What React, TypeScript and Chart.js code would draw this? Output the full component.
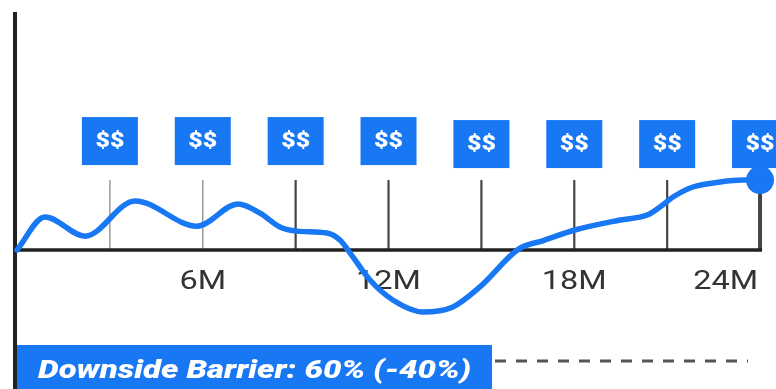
import React, { useEffect, useRef } from 'react';
import { Chart, registerables } from 'chart.js';

Chart.register(...registerables);

// ---- data ----
const months = [0, 0.9, 2.2, 3.81, 5.81, 7.14, 7.85, 8.49, 9.04, 10.01, 10.43, 10.76, 11.4, 12.14, 13.11, 14.08, 14.95, 16.2, 17.0, 18.02, 19.48, 20.35, 20.77, 21.19, 21.83, 22.71, 23.45, 24];
const performance = [0, 11.9, 5.0, 17.7, 8.6, 16.6, 13.3, 8.3, 6.8, 6.1, 3.6, -1.1, -10.8, -18.0, -22.3, -20.5, -13.3, 0.3, 3.4, 7.2, 10.8, 12.6, 15.5, 19.1, 22.7, 24.5, 25.2, 25.2];
const observationMonths = [3, 6, 9, 12, 15, 18, 21, 24];
const tickLabels = ['', '6M', '', '12M', '', '18M', '', '24M'];
const couponText = '$$';
const observationTop = 25.2;
const barrierLevel = -40;
const barrierLabel = 'Downside Barrier: 60% (-40%)';

const BLUE = '#1877f2';

// draws text widened horizontally by factor sx; align: 'left' | 'center' | 'right'
function wideText(ctx: CanvasRenderingContext2D, text: string, x: number, y: number, sx: number, align: string) {
  const w = ctx.measureText(text).width * sx;
  let left = x;
  if (align === 'center') left = x - w / 2;
  else if (align === 'right') left = x - w;
  ctx.save();
  ctx.textAlign = 'left';
  ctx.translate(left, y);
  ctx.scale(sx, 1);
  ctx.fillText(text, 0, 0);
  ctx.restore();
}

const overlay = {
  id: 'overlay',
  beforeDatasetsDraw(chart: any) {
    const { ctx, scales } = chart;
    const x = scales.x;
    const y = scales.y;
    const x0 = x.getPixelForValue(0);
    const y0 = y.getPixelForValue(0);
    const lastM = observationMonths[observationMonths.length - 1];
    const xEnd = x.getPixelForValue(lastM);
    const topPx = y.getPixelForValue(observationTop);
    ctx.save();

    // barrier box + dashed line
    const barrierPx = y.getPixelForValue(barrierLevel);
    ctx.fillStyle = BLUE;
    ctx.fillRect(x0 - 1, barrierPx - 16, 476, chart.height - barrierPx + 20);
    ctx.fillStyle = '#ffffff';
    ctx.font = 'italic 900 26px Roboto';
    ctx.textBaseline = 'alphabetic';
    const bw0 = ctx.measureText(barrierLabel).width;
    wideText(ctx, barrierLabel, x0 + 21, barrierPx + 17, 433 / bw0, 'left');
    ctx.strokeStyle = '#555555';
    ctx.lineWidth = 3;
    ctx.setLineDash([11, 10]);
    ctx.beginPath();
    ctx.moveTo(x0 + 478, barrierPx);
    ctx.lineTo(xEnd - 12, barrierPx);
    ctx.stroke();
    ctx.setLineDash([]);

    // observation ticks, coupon boxes, labels
    observationMonths.forEach((m, i) => {
      const px = x.getPixelForValue(m);
      const last = i === observationMonths.length - 1;
      ctx.strokeStyle = i < 2 ? '#9a9a9a' : '#444444';
      ctx.lineWidth = last ? 4 : i < 2 ? 1.5 : 2.2;
      ctx.beginPath();
      ctx.moveTo(px, topPx);
      ctx.lineTo(px, y0);
      ctx.stroke();

      const bw = 56;
      const bh = 48;
      const bBottom = topPx - (i < 4 ? 15 : 12);
      ctx.fillStyle = BLUE;
      ctx.fillRect(px - bw / 2, bBottom - bh, bw, bh);
      ctx.fillStyle = '#ffffff';
      ctx.font = '900 20px Roboto';
      ctx.textBaseline = 'middle';
      wideText(ctx, couponText, px, bBottom - bh / 2 + 1, 1.25, 'center');

      const lbl = tickLabels[i];
      if (lbl) {
        ctx.fillStyle = '#333333';
        ctx.font = '25px Roboto';
        ctx.textBaseline = 'alphabetic';
        wideText(ctx, lbl, last ? px - 2 : px, y0 + 39, 1.3, last ? 'right' : 'center');
      }
    });

    // axes
    ctx.strokeStyle = '#222222';
    ctx.lineWidth = 4;
    ctx.beginPath();
    ctx.moveTo(x0 - 2, 12);
    ctx.lineTo(x0 - 2, chart.height);
    ctx.stroke();
    ctx.lineWidth = 3.5;
    ctx.beginPath();
    ctx.moveTo(x0 - 2, y0);
    ctx.lineTo(xEnd + 2, y0);
    ctx.stroke();

    ctx.restore();
  },
};

export default function App() {
  const ref = useRef<HTMLCanvasElement | null>(null);
  useEffect(() => {
    if (!ref.current) return;
    const pxPerMonth = 30.96;
    const pxPerPct = 2.775;
    const chart = new Chart(ref.current, {
      type: 'line',
      data: {
        datasets: [
          {
            data: months.map((m, i) => ({ x: m, y: performance[i] })),
            borderColor: BLUE,
            backgroundColor: BLUE,
            borderWidth: 5.5,
            borderCapStyle: 'round',
            cubicInterpolationMode: 'monotone',
            pointRadius: (c: any) => (c.dataIndex === months.length - 1 ? 14 : 0),
            pointBorderWidth: 0,
            pointBackgroundColor: BLUE,
            clip: false as any,
          },
        ],
      },
      options: {
        responsive: false,
        animation: false,
        devicePixelRatio: 1,
        layout: { padding: 0, autoPadding: false },
        plugins: { legend: { display: false }, tooltip: { enabled: false } },
        events: [],
        scales: {
          x: { type: 'linear', display: false, min: -17 / pxPerMonth, max: (776 - 17) / pxPerMonth },
          y: { type: 'linear', display: false, min: -139 / pxPerPct, max: 250 / pxPerPct },
        },
      },
      plugins: [overlay],
    });
    return () => chart.destroy();
  }, []);
  return (
    <div style={{ position: 'fixed', left: 0, top: 0, width: 776, height: 389, background: '#fff' }}>
      <canvas ref={ref} width={776} height={389} style={{ display: 'block' }} />
    </div>
  );
}
